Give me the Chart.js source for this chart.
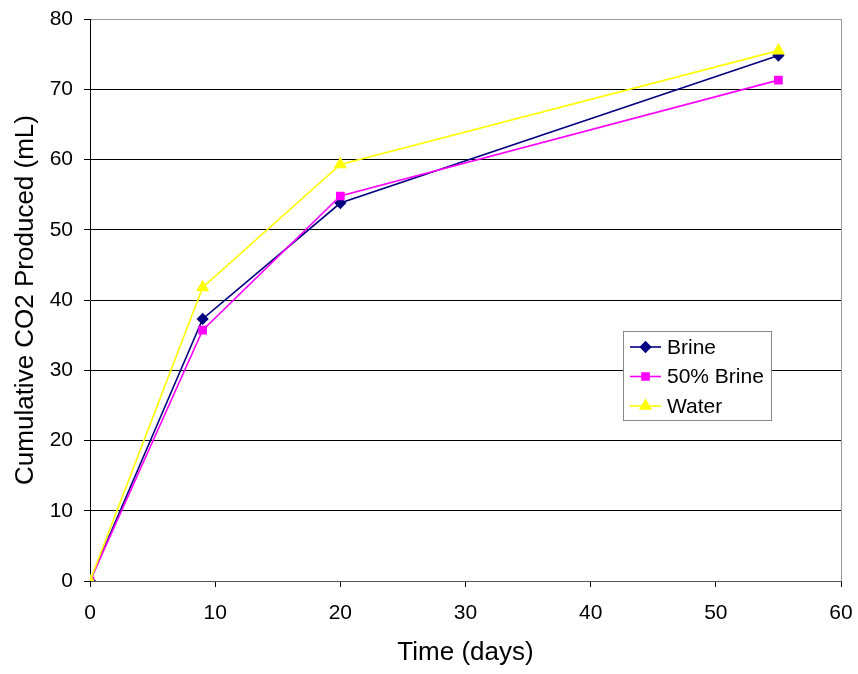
<!DOCTYPE html>
<html>
<head>
<meta charset="utf-8">
<script src="https://cdn.jsdelivr.net/npm/chart.js@4/dist/chart.umd.min.js"></script>
<style>
  html, body { margin: 0; padding: 0; background: #fff; }
  canvas { display: block; }
</style>
</head>
<body>
<canvas id="co2-chart" width="858" height="674"></canvas>
<script>
// Chart data
const days = [0, 9, 20, 55];
const brine = [0, 37.3, 53.8, 74.8];
const halfBrine = [0, 35.7, 54.8, 71.3];
const water = [0, 41.8, 59.3, 75.5];
const seriesNames = ['Brine', '50% Brine', 'Water'];

const FONT = "'Liberation Sans', Arial, sans-serif";

// Build {x, y} points from the arrays
function toPoints(values) {
    return days.map(function(d, i) { return { x: d, y: values[i] }; });
}

// Right border of the plot area
const plotBorder = {
    id: 'plotBorder',
    afterDraw: function(chart) {
        const a = chart.chartArea;
        const ctx = chart.ctx;
        ctx.save();
        ctx.strokeStyle = '#999';
        ctx.lineWidth = 1;
        ctx.beginPath();
        ctx.moveTo(Math.round(a.right) + 0.5, a.top);
        ctx.lineTo(Math.round(a.right) + 0.5, a.bottom);
        ctx.stroke();
        ctx.restore();
    }
};

// Boxed legend inside the plot area
const boxLegend = {
    id: 'boxLegend',
    afterDraw: function(chart) {
        const ctx = chart.ctx;
        const box = { x: 623.5, y: 331.5, w: 148, h: 89 };
        ctx.save();
        ctx.fillStyle = '#fff';
        ctx.fillRect(box.x, box.y, box.w, box.h);
        ctx.strokeStyle = '#888';
        ctx.lineWidth = 1;
        ctx.strokeRect(box.x, box.y, box.w, box.h);

        chart.data.datasets.forEach(function(ds, i) {
            const y = 347 + i * 29.5;
            ctx.strokeStyle = ds.borderColor;
            ctx.lineWidth = ds.borderWidth;
            ctx.beginPath();
            ctx.moveTo(630, y);
            ctx.lineTo(661, y);
            ctx.stroke();
            ctx.fillStyle = ds.pointBackgroundColor;
            ctx.strokeStyle = ds.borderColor;
            Chart.helpers.drawPoint(ctx, {
                pointStyle: ds.pointStyle,
                radius: ds.pointRadius,
                rotation: 0,
                borderWidth: 1
            }, 645.5, y);
            ctx.fillStyle = '#000';
            ctx.font = '21px ' + FONT;
            ctx.textBaseline = 'middle';
            ctx.textAlign = 'left';
            ctx.fillText(ds.label, 667, y + 1);
        });
        ctx.restore();
    }
};

const ctx = document.getElementById('co2-chart').getContext('2d');
new Chart(ctx, {
    type: 'line',
    data: {
        datasets: [
            {
                label: seriesNames[0],
                data: toPoints(brine),
                borderColor: '#000080',
                backgroundColor: '#000080',
                pointBackgroundColor: '#000080',
                pointStyle: 'rectRot',
                pointRadius: 5,
                borderWidth: 1.6,
                tension: 0,
                fill: false,
                order: 3
            },
            {
                label: seriesNames[1],
                data: toPoints(halfBrine),
                borderColor: '#FF00FF',
                backgroundColor: '#FF00FF',
                pointBackgroundColor: '#FF00FF',
                pointStyle: 'rect',
                pointRadius: 5,
                borderWidth: 1.6,
                tension: 0,
                fill: false,
                order: 2
            },
            {
                label: seriesNames[2],
                data: toPoints(water),
                borderColor: '#FFFF00',
                backgroundColor: '#FFFF00',
                pointBackgroundColor: '#FFFF00',
                pointStyle: 'triangle',
                pointRadius: 6,
                borderWidth: 1.6,
                tension: 0,
                fill: false,
                order: 1
            }
        ]
    },
    options: {
        responsive: false,
        animation: false,
        layout: { padding: { top: 19, right: 17, left: 0, bottom: 0 } },
        plugins: {
            legend: { display: false },
            tooltip: { enabled: false }
        },
        scales: {
            x: {
                type: 'linear',
                min: 0,
                max: 60,
                afterFit: function(scale) {
                    scale.height = 93;
                    scale.paddingLeft = 0;
                    scale.paddingRight = 0;
                },
                ticks: {
                    stepSize: 10,
                    color: '#000',
                    padding: 14,
                    maxRotation: 0,
                    font: { family: FONT, size: 21 }
                },
                grid: {
                    drawOnChartArea: false,
                    drawTicks: true,
                    tickLength: 6,
                    tickColor: '#000'
                },
                border: { color: '#555', width: 1 },
                title: {
                    display: true,
                    text: 'Time (days)',
                    color: '#000',
                    padding: { top: 0, bottom: 6 },
                    font: { family: FONT, size: 26 }
                }
            },
            y: {
                min: 0,
                max: 80,
                afterFit: function(scale) {
                    scale.width = 90;
                    scale.paddingTop = 0;
                    scale.paddingBottom = 0;
                },
                ticks: {
                    stepSize: 10,
                    color: '#000',
                    padding: 11,
                    font: { family: FONT, size: 21 }
                },
                grid: {
                    color: function(c) {
                        if (c.tick && c.tick.value === 80) return '#999';
                        if (c.tick && c.tick.value === 0) return '#555';
                        return '#000';
                    },
                    tickLength: 6,
                    tickColor: '#000'
                },
                border: { color: '#000', width: 1 },
                title: {
                    display: true,
                    text: 'Cumulative CO2 Produced (mL)',
                    color: '#000',
                    padding: { top: 10, bottom: 0 },
                    font: { family: FONT, size: 26 }
                }
            }
        }
    },
    plugins: [plotBorder, boxLegend]
});
</script>
</body>
</html>
